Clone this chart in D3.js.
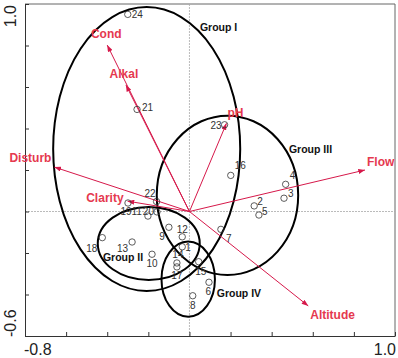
<!DOCTYPE html>
<html>
<head>
<meta charset="utf-8">
<script src="https://cdn.jsdelivr.net/npm/d3@7"></script>
<style>
  body { margin: 0; background: #fff; }
  svg { display: block; font-family: "Liberation Sans", Arial, sans-serif; }
</style>
</head>
<body>
<div id="chart"></div>
<script>
// Sites (sample scores on axes 1 and 2)
var siteIds = ["1","2","3","4","5","6","7","8","9","10","11","12",
               "13","14","15","16","17","18","19","20","21","22","23","24"];
var siteX = [-0.035, 0.315, 0.460, 0.468, 0.338, 0.095, 0.153, 0.016, -0.100, -0.182, -0.202, -0.035,
             -0.279, -0.061, 0.045, 0.201, -0.061, -0.424, -0.299, -0.158, -0.255, -0.160, 0.171, -0.300];
var siteY = [-0.170, 0.027, 0.064, 0.131, -0.017, -0.341, -0.086, -0.406, -0.076, -0.206, -0.022, -0.122,
             -0.147, -0.248, -0.242, 0.174, -0.267, -0.126, 0.041, -0.002, 0.492, 0.048, 0.418, 0.950];

// Environmental variables (arrow tips)
var envNames = ["Cond", "Alkal", "Disturb", "pH", "Flow", "Clarity", "Altitude"];
var envX = [-0.400, -0.309, -0.657, 0.180, 0.854, -0.301, 0.578];
var envY = [0.802, 0.610, 0.214, 0.425, 0.200, 0.050, -0.455];

// Group ellipses (data units)
var groupNames = ["Group I", "Group II", "Group III", "Group IV"];
var groupCX = [-0.208, -0.198, 0.185, -0.006];
var groupCY = [0.301, -0.154, 0.078, -0.326];
var groupRX = [0.455, 0.248, 0.344, 0.130];
var groupRY = [0.684, 0.176, 0.384, 0.181];
var groupLabelX = [0.051, -0.421, 0.484, 0.133];
var groupLabelY = [0.872, -0.239, 0.284, -0.414];

// Axis
var xTicks = d3.range(-0.8, 1.01, 0.2);
var yTicks = d3.range(-0.6, 1.01, 0.2);
var xEndLabels = ["-0.8", "1.0"];
var yEndLabels = ["-0.6", "1.0"];

// label placement (pixel offsets from the point)
var siteLabelPos = {
  "1": [3, 4, "start"], "2": [3, -1, "start"], "3": [4, -1.5, "start"], "4": [4, -5, "start"],
  "5": [3, 0, "start"], "6": [2, 13, "end"], "7": [5, 13, "start"], "8": [0, 13, "middle"],
  "9": [-4, 13, "end"], "10": [0, 13, "middle"], "11": [-6, -1, "end"], "12": [0, -3.5, "middle"],
  "13": [-4, 10, "end"], "14": [1, -5, "middle"], "15": [2, 13, "middle"], "16": [4, -6, "start"],
  "17": [0, 12, "middle"], "18": [-5, 14, "end"], "19": [-2, 12, "middle"], "20": [-3, 3, "end"],
  "21": [5, 2, "start"], "22": [-1, -5, "end"], "23": [-3, 4, "end"], "24": [4, 4, "start"]
};
var envLabelPos = {
  "Cond": [-1, -7, "middle"], "Alkal": [-2, -7, "middle"], "Disturb": [-3, -5, "end"],
  "pH": [1, -6, "start"], "Flow": [2, -4, "start"], "Clarity": [-4, 1, "end"],
  "Altitude": [2, 13, "start"]
};

var width = 398, height = 358;
var plot = {left: 25, right: 395, top: 4, bottom: 336};

var x = d3.scaleLinear().domain([-0.8, 1.0]).range([plot.left, plot.right]);
var y = d3.scaleLinear().domain([-0.6, 1.0]).range([plot.bottom, plot.top]);

var svg = d3.select("#chart").append("svg")
    .attr("width", width)
    .attr("height", height);

var arrowColor = "#d6184a", envTextColor = "#e5394f";

svg.append("defs").append("marker")
    .attr("id", "head")
    .attr("viewBox", "0 0 8 6")
    .attr("refX", 8).attr("refY", 3)
    .attr("markerWidth", 7).attr("markerHeight", 5)
    .attr("markerUnits", "userSpaceOnUse")
    .attr("orient", "auto")
  .append("path")
    .attr("d", "M0,0L8,3L0,6Z")
    .attr("fill", arrowColor);

// frame (top / right)
svg.append("path")
    .attr("d", "M" + plot.left + "," + plot.top + "H" + plot.right + "V" + plot.bottom)
    .attr("fill", "none").attr("stroke", "#666").attr("stroke-width", 1);

// zero lines
svg.append("line")
    .attr("x1", x(0)).attr("x2", x(0)).attr("y1", plot.top).attr("y2", plot.bottom)
    .attr("stroke", "#aaa").attr("stroke-width", 0.8).attr("stroke-dasharray", "2,1");
svg.append("line")
    .attr("x1", plot.left).attr("x2", plot.right).attr("y1", y(0)).attr("y2", y(0))
    .attr("stroke", "#aaa").attr("stroke-width", 0.8).attr("stroke-dasharray", "2,1");

// axes with inward ticks
var xAxis = d3.axisBottom(x).tickValues(xTicks).tickSize(-4).tickSizeOuter(0).tickFormat("");
var yAxis = d3.axisLeft(y).tickValues(yTicks).tickSize(-4).tickSizeOuter(0).tickFormat("");
svg.append("g").attr("transform", "translate(0," + plot.bottom + ")").call(xAxis)
    .selectAll("path,line").attr("stroke", "#333");
svg.append("g").attr("transform", "translate(" + plot.left + ",0)").call(yAxis)
    .selectAll("path,line").attr("stroke", "#333");

// end labels
svg.append("text").attr("x", x(-0.8) - 1).attr("y", 355)
    .attr("font-size", 16).attr("fill", "#222").text(xEndLabels[0]);
svg.append("text").attr("x", x(1.0) + 1).attr("y", 355).attr("text-anchor", "end")
    .attr("font-size", 16).attr("fill", "#222").text(xEndLabels[1]);
svg.append("text").attr("transform", "translate(16," + (y(-0.6) + 1) + ") rotate(-90)")
    .attr("font-size", 16).attr("fill", "#222").text(yEndLabels[0]);
svg.append("text").attr("transform", "translate(16," + (y(1.0) + 1) + ") rotate(-90)")
    .attr("text-anchor", "end")
    .attr("font-size", 16).attr("fill", "#222").text(yEndLabels[1]);

// group ellipses
var groups = groupNames.map(function(n, i) {
  return {name: n, cx: groupCX[i], cy: groupCY[i], rx: groupRX[i], ry: groupRY[i],
          lx: groupLabelX[i], ly: groupLabelY[i]};
});
svg.selectAll(".grp").data(groups).enter().append("ellipse")
    .attr("class", "grp")
    .attr("cx", function(d) { return x(d.cx); })
    .attr("cy", function(d) { return y(d.cy); })
    .attr("rx", function(d) { return x(d.rx) - x(0); })
    .attr("ry", function(d) { return y(0) - y(d.ry); })
    .attr("fill", "none").attr("stroke", "#000").attr("stroke-width", 2);

// env arrows
var env = envNames.map(function(n, i) { return {name: n, x: envX[i], y: envY[i]}; });
svg.selectAll(".arrow").data(env).enter().append("line")
    .attr("class", "arrow")
    .attr("x1", x(0)).attr("y1", y(0))
    .attr("x2", function(d) { return x(d.x); })
    .attr("y2", function(d) { return y(d.y); })
    .attr("stroke", arrowColor).attr("stroke-width", 1)
    .attr("marker-end", "url(#head)");

// sites
var sites = siteIds.map(function(id, i) { return {id: id, x: siteX[i], y: siteY[i]}; });
svg.selectAll(".site").data(sites).enter().append("circle")
    .attr("class", "site")
    .attr("cx", function(d) { return x(d.x); })
    .attr("cy", function(d) { return y(d.y); })
    .attr("r", 3.2)
    .attr("fill", "none").attr("stroke", "#333").attr("stroke-width", 0.8);
svg.selectAll(".slab").data(sites).enter().append("text")
    .attr("class", "slab")
    .attr("x", function(d) { return x(d.x) + siteLabelPos[d.id][0]; })
    .attr("y", function(d) { return y(d.y) + siteLabelPos[d.id][1]; })
    .attr("text-anchor", function(d) { return siteLabelPos[d.id][2]; })
    .attr("font-size", 10).attr("fill", "#333")
    .text(function(d) { return d.id; });

// env labels
svg.selectAll(".elab").data(env).enter().append("text")
    .attr("class", "elab")
    .attr("x", function(d) { return x(d.x) + envLabelPos[d.name][0]; })
    .attr("y", function(d) { return y(d.y) + envLabelPos[d.name][1]; })
    .attr("text-anchor", function(d) { return envLabelPos[d.name][2]; })
    .attr("font-size", 12).attr("font-weight", "bold").attr("fill", envTextColor)
    .text(function(d) { return d.name; });

// group labels
svg.selectAll(".glab").data(groups).enter().append("text")
    .attr("class", "glab")
    .attr("x", function(d) { return x(d.lx); })
    .attr("y", function(d) { return y(d.ly); })
    .attr("font-size", 10.5).attr("font-weight", "bold").attr("fill", "#111")
    .text(function(d) { return d.name; });
</script>
</body>
</html>
